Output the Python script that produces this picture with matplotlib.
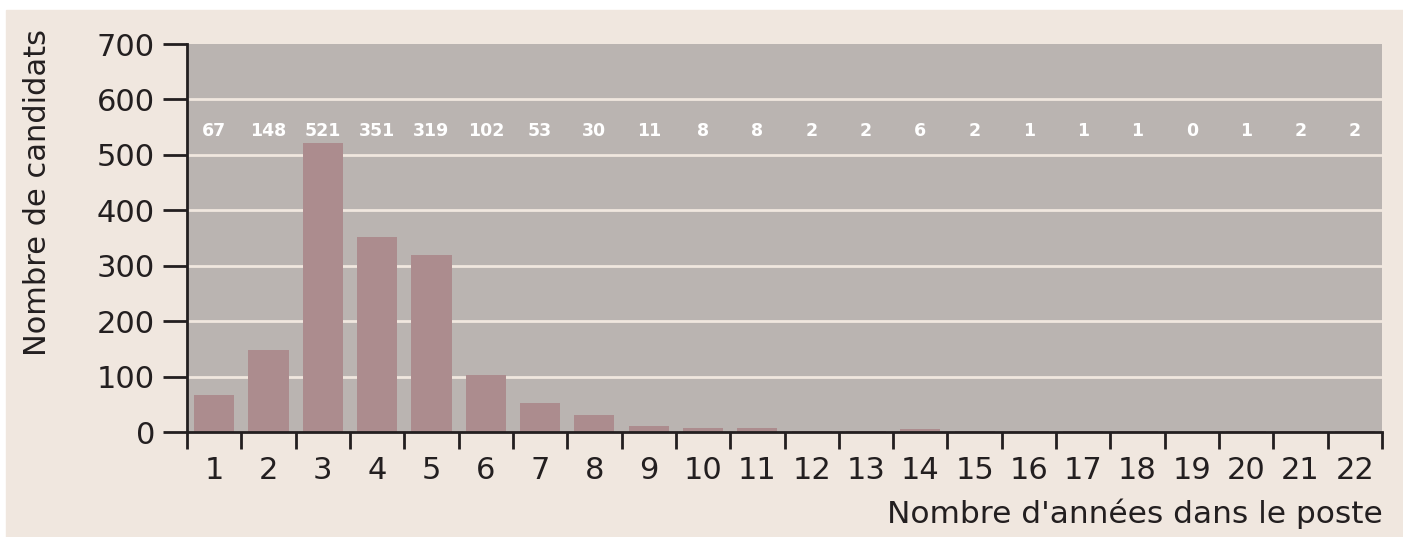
import numpy as np
import matplotlib.pyplot as plt
from matplotlib.patches import Rectangle

# Data
annees = list(range(1, 23))
candidats = [67, 148, 521, 351, 319, 102, 53, 30, 11, 8, 8, 2, 2, 6, 2, 1, 1, 1, 0, 1, 2, 2]
yticks = [0, 100, 200, 300, 400, 500, 600, 700]

beige = '#F0E7DF'
gris = '#BAB4B1'
barre = '#AC8C8E'
texte = '#231F20'

plt.rcParams['font.family'] = ['DejaVu Sans']

fig = plt.figure(figsize=(14.03, 5.37), dpi=100, facecolor='white')
fig.patches.append(Rectangle((6 / 1403, 0), 1, (537 - 10) / 537,
                             transform=fig.transFigure, color=beige, zorder=-10))

ax = fig.add_axes([187 / 1403, 1 - 432 / 537, (1382 - 187) / 1403, (432 - 44) / 537])
ax.set_facecolor(gris)

x = np.arange(len(annees))
ax.bar(x, candidats, width=0.74, color=barre, zorder=2)

ax.set_xlim(-0.5, len(annees) - 0.5)
ax.set_ylim(0, 700)

# grid lines
for v in yticks[1:-1]:
    ax.axhline(v, color=beige, lw=2, zorder=1)

# labels above bars
for xi, v in zip(x, candidats):
    ax.text(xi, 543, str(v), ha='center', va='center', color='white',
            fontsize=12.5, fontweight='bold', zorder=3)

ax.set_yticks(yticks)
ax.set_yticklabels([str(t) for t in yticks], fontsize=22, color=texte)
ax.tick_params(axis='y', direction='out', length=17, width=2, color=texte, pad=6)

# x ticks at the boundaries, labels at centers
ax.set_xticks(np.arange(-0.5, len(annees), 1.0))
ax.set_xticklabels([])
ax.set_xticks(x, minor=True)
ax.set_xticklabels([str(a) for a in annees], minor=True, fontsize=22, color=texte)
ax.tick_params(axis='x', which='major', direction='out', length=12.5, width=2, color=texte)
ax.tick_params(axis='x', which='minor', length=0, pad=17)

for s in ['top', 'right']:
    ax.spines[s].set_visible(False)
ax.spines['left'].set_linewidth(2)
ax.spines['left'].set_color(texte)
ax.spines['bottom'].set_linewidth(2)
ax.spines['bottom'].set_color(texte)

fig.text(1383 / 1403, 1 - 523 / 537, "Nombre d'années dans le poste", ha='right', va='baseline',
         fontsize=22.5, color=texte)
fig.text(38 / 1403, 1 - 193 / 537, "Nombre de candidats", ha='center', va='center',
         rotation=90, fontsize=22, color=texte)

fig.savefig('out.png', dpi=100, facecolor=fig.get_facecolor())
